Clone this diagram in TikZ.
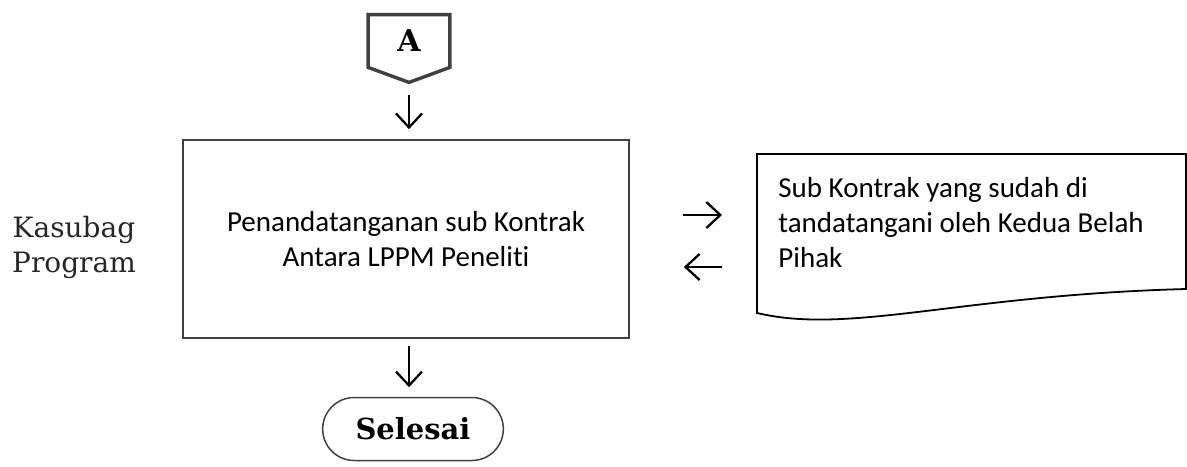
\documentclass[tikz,border=0pt]{standalone}
\usepackage{fontspec}
\setmainfont{Carlito}[Ligatures=NoCommon]
\newfontfamily\kopfont{DejaVu Serif}
\usetikzlibrary{arrows.meta,calc,shapes.misc}
\definecolor{garisgray}{HTML}{404040}
\definecolor{teksgray}{HTML}{262626}

\begin{document}
\begin{tikzpicture}[
    x=0.5pt, y=-0.5pt,
    panah/.style={-{Straight Barb[length=7pt,width=13pt]}, line width=1.15pt, black},
    proses/.style={draw=garisgray, line width=0.85pt, minimum width=223pt, minimum height=99pt, align=center, font=\fontsize{14.5}{17.5}\selectfont},
    dokumen/.style={inner sep=0pt, align=left, font=\fontsize{14.5}{17.5}\selectfont},
    terminal/.style={rounded rectangle, draw=garisgray, line width=0.75pt, minimum width=97pt, minimum height=31.5pt, font=\kopfont\bfseries\fontsize{14.5}{17}\selectfont},
    konektor/.style={minimum width=40.5pt, minimum height=26pt, inner sep=0pt, font=\kopfont\bfseries\fontsize{15}{17}\selectfont},
    peran/.style={align=center, text=teksgray, font=\kopfont\fontsize{14}{17.5}\selectfont}
  ]
  \useasboundingbox (0,0) rectangle (1187,466);

  % Off-page connector
  \node[konektor] (conA) at (409,41) {A};
  \draw[garisgray, line width=1.7pt] (conA.north west) -- (conA.north east) -- (conA.south east)
    -- ($(conA.south)+(0,15)$) -- (conA.south west) -- cycle;

  % Process and actor
  \node[proses] (proc) at (406,239) {Penandatanganan sub Kontrak\\Antara LPPM Peneliti};
  \node[peran] (kasubag) at (74,247) {Kasubag\\Program};

  % Document
  \node[dokumen, anchor=west] (dok) at (778,223) {Sub Kontrak yang sudah di\\tandatangani oleh Kedua Belah\\Pihak};
  \draw[black, line width=0.9pt] (757,154) -- (1186,154) -- (1186,289)
    .. controls (960,295) and (850,335) .. (757,313) -- cycle;

  % End
  \node[terminal] (selesai) at (413,429) {Selesai};

  % Arrows
  \draw[panah, shorten <=6.5pt, shorten >=5pt] ($(conA.south)+(0,15)$) -- (conA.south |- proc.north);
  \draw[panah, shorten <=3.5pt, shorten >=4.75pt] (conA.south |- proc.south) -- (conA.south |- selesai.north);
  \draw[panah, shorten <=26.5pt, shorten >=28pt] ([yshift=12pt]proc.east) -- ([yshift=12pt]proc.east -| dok.west);
  \draw[panah, shorten <=28pt, shorten >=27pt] ([yshift=-14pt]proc.east -| dok.west) -- ([yshift=-14pt]proc.east);
\end{tikzpicture}
\end{document}
